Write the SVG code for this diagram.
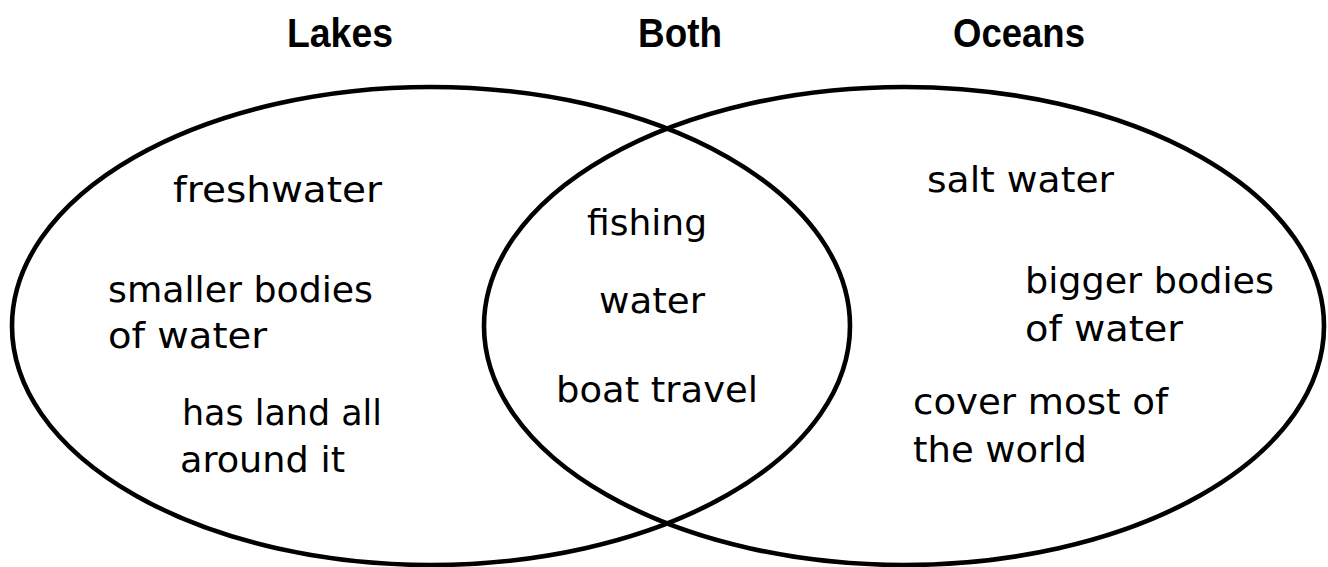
<svg xmlns="http://www.w3.org/2000/svg" width="1328" height="567" viewBox="0 0 1328 567">
  <style>
    .ring { fill: none; stroke: #000; stroke-width: 4.6; }
    .head { font-family: "Liberation Sans", Arial, sans-serif; font-weight: bold; font-size: 41px; fill: #000; }
    .body { font-family: "DejaVu Sans", "Noto Sans", sans-serif; font-size: 35px; fill: #000; }
  </style>
  <rect width="1328" height="567" fill="#fff"/>
  <g id="lakes">
    <ellipse class="ring" cx="431" cy="326" rx="419" ry="239"/>
    <text class="head" x="287" y="47" textLength="106" lengthAdjust="spacingAndGlyphs">Lakes</text>
    <text class="body" x="173" y="202" textLength="209" lengthAdjust="spacingAndGlyphs">freshwater</text>
    <text class="body" x="108" y="302" textLength="265" lengthAdjust="spacingAndGlyphs">smaller bodies</text>
    <text class="body" x="108" y="348" textLength="159" lengthAdjust="spacingAndGlyphs">of water</text>
    <text class="body" x="182" y="425" textLength="200" lengthAdjust="spacingAndGlyphs">has land all</text>
    <text class="body" x="180" y="472" textLength="165" lengthAdjust="spacingAndGlyphs">around it</text>
  </g>
  <g id="oceans">
    <ellipse class="ring" cx="904" cy="326" rx="420" ry="239"/>
    <text class="head" x="953" y="47" textLength="132" lengthAdjust="spacingAndGlyphs">Oceans</text>
    <text class="body" x="927" y="192" textLength="187" lengthAdjust="spacingAndGlyphs">salt water</text>
    <text class="body" x="1025" y="293" textLength="249" lengthAdjust="spacingAndGlyphs">bigger bodies</text>
    <text class="body" x="1025" y="341" textLength="158" lengthAdjust="spacingAndGlyphs">of water</text>
    <text class="body" x="913" y="414" textLength="255" lengthAdjust="spacingAndGlyphs">cover most of</text>
    <text class="body" x="913" y="462" textLength="174" lengthAdjust="spacingAndGlyphs">the world</text>
  </g>
  <g id="both">
    <text class="head" x="638" y="47" textLength="84" lengthAdjust="spacingAndGlyphs">Both</text>
    <text class="body" x="587" y="235" textLength="120" lengthAdjust="spacingAndGlyphs">fishing</text>
    <text class="body" x="599" y="313" textLength="106" lengthAdjust="spacingAndGlyphs">water</text>
    <text class="body" x="556" y="402" textLength="202" lengthAdjust="spacingAndGlyphs">boat travel</text>
  </g>
  <g id="connectors"/>
</svg>
